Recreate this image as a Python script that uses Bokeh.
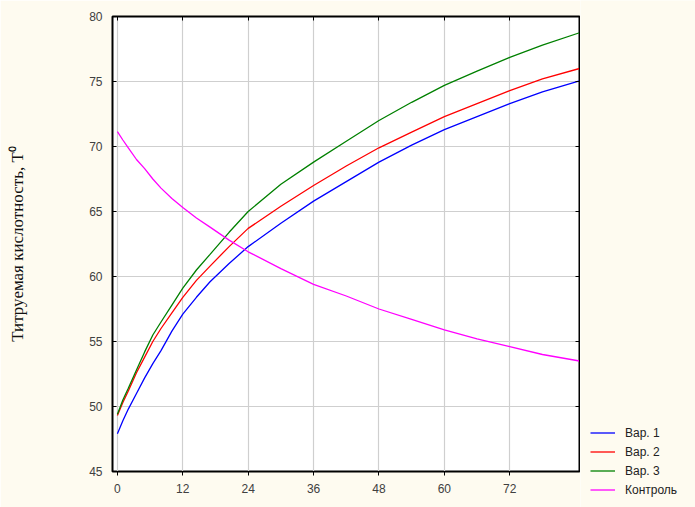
from bokeh.plotting import figure
from bokeh.layouts import row
from bokeh.models import FixedTicker, LinearAxis, Legend, LegendItem
from bokeh.embed import file_html
from bokeh.resources import INLINE

# Data
hours = [0, 1, 2, 3.5, 5, 6.5, 8, 10, 12, 14.5, 17, 20.5, 24, 30, 36, 42, 48, 54, 60, 66, 72, 78, 84.8]
var1 = [47.9, 48.9, 49.8, 51.0, 52.2, 53.3, 54.3, 55.8, 57.1, 58.4, 59.6, 61.0, 62.3,
        64.1, 65.8, 67.3, 68.8, 70.1, 71.3, 72.3, 73.3, 74.2, 75.05]
var2 = [49.3, 50.3, 51.2, 52.6, 53.8, 55.0, 56.0, 57.2, 58.4, 59.7, 60.8, 62.3, 63.7,
        65.4, 67.0, 68.5, 69.9, 71.1, 72.3, 73.3, 74.3, 75.2, 76.0]
var3 = [49.4, 50.5, 51.4, 52.8, 54.2, 55.5, 56.5, 57.8, 59.1, 60.5, 61.7, 63.4, 65.0,
        67.1, 68.8, 70.4, 72.0, 73.4, 74.7, 75.8, 76.85, 77.8, 78.75]
control = [71.15, 70.5, 69.9, 69.0, 68.3, 67.5, 66.8, 66.0, 65.3, 64.5, 63.8, 62.8, 61.9,
           60.6, 59.4, 58.5, 57.5, 56.7, 55.9, 55.2, 54.6, 54.0, 53.5]

series_names = ["Вар. 1", "Вар. 2", "Вар. 3", "Контроль"]
series_colors = ["#0000FF", "#FF0000", "#008000", "#FF00FF"]
x_ticks = [0, 12, 24, 36, 48, 60, 72]
y_ticks = [45, 50, 55, 60, 65, 70, 75, 80]
y_label = "Титруемая кислотность, Т⁰"

FONT = "Liberation Sans"
CREAM = "#FEFBF0"

# ---- main chart ----
p = figure(width=580, height=507, output_backend="svg", toolbar_location=None,
           x_range=(-0.9, 84.8), y_range=(45, 80),
           min_border_left=112, min_border_right=1,
           min_border_top=16, min_border_bottom=36)
p.border_fill_color = CREAM
p.background_fill_color = "white"
p.outline_line_color = "black"
p.outline_line_width = 2

for ys, c in zip([var1, var2, var3, control], series_colors):
    p.line(hours, ys, line_color=c, line_width=1.3)

xa = p.xaxis[0]
xa.ticker = FixedTicker(ticks=x_ticks)
xa.major_tick_in = 0
xa.major_tick_out = 4
xa.minor_tick_line_color = None
xa.axis_line_color = "black"
xa.major_tick_line_color = "black"
xa.major_label_text_font = FONT
xa.major_label_text_font_size = "12px"
xa.major_label_text_color = "#404040"
xa.major_label_standoff = 8

ya = p.yaxis[0]
ya.ticker = FixedTicker(ticks=y_ticks)
ya.major_tick_in = 4
ya.major_tick_out = 0
ya.minor_tick_line_color = None
ya.axis_line_color = "black"
ya.major_tick_line_color = "black"
ya.major_label_text_font = FONT
ya.major_label_text_font_size = "12px"
ya.major_label_text_color = "#404040"
ya.major_label_standoff = 10
ya.axis_label = y_label
ya.axis_label_text_font = "Liberation Serif"
ya.axis_label_text_font_style = "normal"
ya.axis_label_text_font_size = "17px"
ya.axis_label_text_color = "#111111"
ya.axis_label_standoff = 59

top = LinearAxis(ticker=FixedTicker(ticks=x_ticks), major_tick_in=4, major_tick_out=0,
                 minor_tick_line_color=None, axis_line_color="black", major_label_standoff=0,
                 major_label_overrides={t: "" for t in x_ticks})
right = LinearAxis(ticker=FixedTicker(ticks=y_ticks), major_tick_in=4, major_tick_out=0,
                   minor_tick_line_color=None, axis_line_color="black", major_label_standoff=0,
                   major_label_overrides={t: "" for t in y_ticks})
p.add_layout(top, "above")
p.add_layout(right, "right")

p.xgrid.ticker = FixedTicker(ticks=x_ticks)
p.ygrid.ticker = FixedTicker(ticks=y_ticks)
p.xgrid.grid_line_color = "#CFCFCF"
p.ygrid.grid_line_color = "#CFCFCF"
p.xgrid.grid_line_width = 1.2
p.ygrid.grid_line_width = 1.2

# ---- legend panel (right strip) ----
lg = figure(width=115, height=507, output_backend="svg", toolbar_location=None,
            x_axis_location=None, y_axis_location=None,
            min_border_left=0, min_border_right=0, min_border_top=0, min_border_bottom=0)
lg.frame_align = False
lg.border_fill_color = CREAM
lg.background_fill_color = CREAM
lg.outline_line_color = None
lg.grid.visible = False
nan = float("nan")
key_renderers = [lg.line(x=[nan], y=[nan], line_color=c, line_width=1.3) for c in series_colors]
legend = Legend(items=[LegendItem(label=n, renderers=[r]) for n, r in zip(series_names, key_renderers)],
                location=(10, 8), padding=0, margin=0, spacing=0,
                glyph_width=25, glyph_height=19, label_height=19, label_standoff=10,
                label_text_font=FONT, label_text_font_size="12px", label_text_color="#222222",
                border_line_color=None, background_fill_alpha=0)
lg.add_layout(legend, "center")

layout = row(p, lg, spacing=0)
open("out.html", "w").write(file_html(layout, INLINE))
